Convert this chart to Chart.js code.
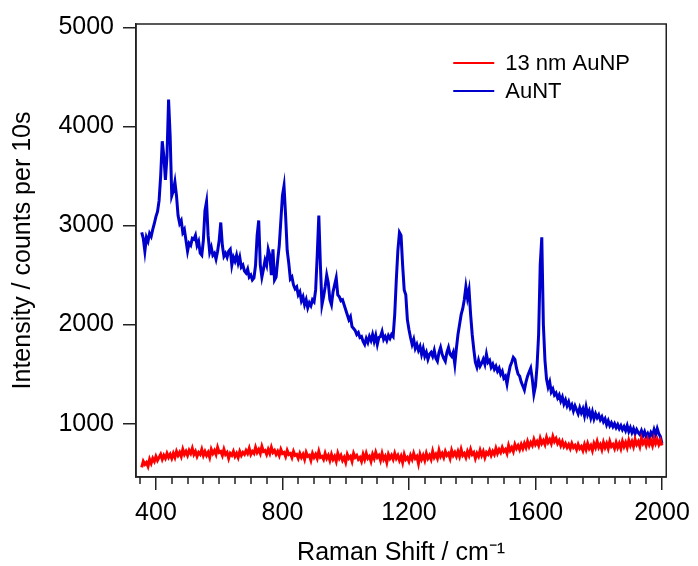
<!DOCTYPE html>
<html>
<head>
<meta charset="utf-8">
<script src="https://cdn.jsdelivr.net/npm/chart.js@4.4.1/dist/chart.umd.min.js"></script>
<style>
  html, body { margin: 0; padding: 0; background: #fff; }
  #spectrum { display: block; }
</style>
</head>
<body>
<canvas id="spectrum" width="698" height="566"></canvas>
<script>
// Raman spectra, one reading every 5 cm-1 from 355 to 2000 cm-1
const shiftStart = 355;
const shiftStep = 5;

// 13 nm AuNP (20 readings per row = 100 cm-1)
const aunpCounts = [
  560, 620, 590, 610, 570, 640, 600, 650, 620, 670, 630, 660, 690, 640, 680, 650, 700, 660, 690, 650,
  700, 660, 720, 680, 710, 670, 740, 690, 720, 680, 730, 700, 750, 690, 720, 670, 710, 690, 740, 680,
  720, 680, 710, 660, 740, 700, 730, 690, 760, 710, 720, 680, 740, 690, 710, 650, 700, 680, 720, 670,
  700, 660, 720, 680, 710, 690, 730, 700, 750, 690, 720, 700, 760, 710, 740, 700, 770, 720, 730, 690,
  740, 700, 760, 710, 730, 690, 720, 680, 740, 700, 710, 670, 730, 690, 700, 660, 720, 680, 690, 650,
  700, 660, 690, 640, 710, 670, 680, 630, 700, 660, 690, 650, 720, 660, 670, 640, 700, 650, 680, 630,
  690, 640, 670, 620, 700, 650, 680, 630, 660, 610, 690, 650, 670, 620, 700, 660, 680, 640, 660, 620,
  690, 640, 700, 650, 670, 620, 690, 650, 710, 660, 680, 630, 700, 640, 670, 610, 690, 650, 680, 640,
  700, 650, 680, 630, 670, 610, 690, 640, 660, 620, 680, 640, 700, 650, 670, 600, 690, 640, 680, 630,
  700, 650, 680, 640, 720, 660, 690, 650, 730, 670, 700, 660, 720, 680, 700, 650, 730, 680, 710, 670,
  720, 670, 740, 680, 700, 660, 720, 680, 740, 690, 710, 650, 700, 670, 730, 680, 720, 660, 710, 690,
  730, 680, 720, 690, 750, 700, 740, 710, 760, 720, 740, 700, 780, 730, 760, 720, 790, 750, 780, 740,
  790, 750, 800, 760, 820, 770, 810, 780, 840, 790, 820, 780, 850, 800, 830, 790, 860, 810, 840, 800,
  870, 820, 850, 800, 830, 780, 820, 770, 800, 760, 790, 750, 800, 760, 780, 740, 790, 750, 770, 730,
  790, 740, 800, 750, 780, 730, 800, 760, 820, 760, 790, 740, 810, 760, 800, 750, 820, 770, 790, 750,
  810, 760, 800, 750, 820, 770, 810, 760, 830, 780, 820, 770, 840, 790, 820, 770, 850, 800, 830, 780,
  840, 790, 830, 780, 850, 800, 840, 790, 830, 780
];

// AuNT
const auntCounts = [
  2930, 2870, 2740, 2880, 2840, 2920, 2890, 2960, 3020, 3090, 3140, 3250, 3500, 3850, 3700, 3460, 3700, 4270, 3900, 3300,
  3350, 3440, 3300, 3100, 3020, 3050, 2930, 2960, 2850, 2740, 2820, 2800, 2870, 2860, 2900, 2800, 2840, 2720, 2700, 2850,
  3150, 3240, 2900, 2730, 2780, 2700, 2720, 2660, 2740, 2850, 3030, 2800, 2690, 2720, 2680, 2740, 2760, 2600, 2680, 2640,
  2700, 2620, 2680, 2580, 2600, 2540, 2520, 2560, 2480, 2500, 2450, 2470, 2600, 2900, 3050, 2600, 2480, 2560, 2650, 2600,
  2760, 2700, 2500, 2760, 2450, 2480, 2650, 2800, 3050, 3300, 3400, 3100, 2750, 2620, 2460, 2480, 2400, 2360, 2380, 2300,
  2330, 2240, 2280, 2200, 2250, 2170, 2220, 2190, 2250, 2230, 2350, 2700, 3100, 2600, 2200, 2280, 2380, 2500, 2420, 2250,
  2200, 2330, 2400, 2470, 2300, 2280, 2240, 2250, 2200, 2150, 2100, 2050, 2080, 1980, 1960, 1940, 1900, 1920, 1870, 1880,
  1830, 1800, 1860, 1820, 1880, 1840, 1900, 1830, 1890, 1800, 1870, 1880, 1930, 1850, 1880, 1840, 1890, 1860, 1900, 1880,
  2100, 2450, 2750, 2930, 2900, 2600, 2350, 2300, 2050, 1950, 1870, 1800, 1850, 1760, 1800, 1740, 1780, 1700, 1760, 1680,
  1720, 1650, 1700, 1720, 1680, 1740, 1660, 1630, 1720, 1770, 1700, 1660, 1630, 1720, 1770, 1700, 1680, 1720, 1600, 1760,
  1900, 2000, 2100, 2160, 2250, 2380, 2270, 2350, 2100, 1900, 1750, 1620, 1570, 1640, 1580, 1610, 1650, 1600, 1700, 1620,
  1640, 1570, 1600, 1550, 1580, 1530, 1560, 1500, 1530, 1460, 1480, 1400, 1500, 1580, 1620, 1670, 1650, 1560, 1500, 1480,
  1420, 1380, 1340, 1420, 1480, 1520, 1560, 1450, 1300, 1380, 1580, 1900, 2600, 2880, 2000, 1640, 1450, 1370, 1420, 1320,
  1350, 1290, 1310, 1260, 1290, 1230, 1270, 1200, 1240, 1180, 1220, 1160, 1190, 1130, 1180, 1140, 1100, 1160, 1110, 1150,
  1080, 1170, 1090, 1130, 1060, 1120, 1050, 1100, 1060, 1090, 1040, 1070, 1020, 1050, 990, 1030, 980, 1010, 970, 1000,
  960, 990, 950, 980, 940, 970, 930, 980, 920, 960, 910, 950, 900, 940, 910, 890, 930, 880, 920, 870,
  900, 860, 910, 880, 940, 890, 950, 900, 870, 800
];

const shiftLabels = [400, 800, 1200, 1600, 2000];
const shiftMinorStep = 50;
const intensityTicks = [1000, 2000, 3000, 4000, 5000];

const toPoints = (counts) => counts.map((y, i) => ({ x: shiftStart + i * shiftStep, y }));

const axisColor = "#222";
const fontFamily = "'Liberation Sans', Arial, sans-serif";

// box round the plot, short minor ticks on x, and the line legend
const framePlugin = {
  id: "frame",
  afterDraw(chart) {
    const { ctx, chartArea, scales } = chart;
    ctx.save();
    ctx.strokeStyle = axisColor;
    ctx.lineWidth = 1.5;
    ctx.strokeRect(chartArea.left, chartArea.top, chartArea.right - chartArea.left, chartArea.bottom - chartArea.top);

    ctx.beginPath();
    scales.x.ticks.forEach((t) => {
      if (shiftLabels.includes(t.value)) return;
      const px = Math.round(scales.x.getPixelForValue(t.value));
      ctx.moveTo(px, chartArea.bottom);
      ctx.lineTo(px, chartArea.bottom + 7);
    });
    ctx.stroke();

    ctx.font = "22px " + fontFamily;
    ctx.textBaseline = "middle";
    ctx.fillStyle = "#000";
    chart.data.datasets.forEach((ds, i) => {
      const y = chartArea.top + 39 + i * 28;
      const x0 = chartArea.right - 213;
      ctx.strokeStyle = ds.borderColor;
      ctx.lineWidth = 2;
      ctx.beginPath();
      ctx.moveTo(x0, y);
      ctx.lineTo(x0 + 41, y);
      ctx.stroke();
      ctx.fillText(ds.label, x0 + 52, y + 1);
    });
    ctx.restore();
  }
};

const ctx = document.getElementById("spectrum").getContext("2d");
const spectrumChart = new Chart(ctx, {
  type: "line",
  data: {
    datasets: [
      {
        label: "13 nm AuNP",
        data: toPoints(aunpCounts),
        borderColor: "#ff0000",
        borderWidth: 3,
        pointRadius: 0,
        tension: 0,
      },
      {
        label: "AuNT",
        data: toPoints(auntCounts),
        borderColor: "#0000cc",
        borderWidth: 3,
        pointRadius: 0,
        tension: 0,
      },
    ],
  },
  options: {
    responsive: false,
    animation: false,
    devicePixelRatio: 1,
    layout: { padding: { top: 21, right: 27, left: 0, bottom: 0 } },
    plugins: {
      legend: { display: false },
      tooltip: { enabled: false },
    },
    scales: {
      x: {
        type: "linear",
        min: 337,
        max: 2013.5,
        afterFit: (scale) => { scale.height = 89; },
        afterBuildTicks: (scale) => {
          const ticks = [];
          for (let v = 350; v <= 2000; v += shiftMinorStep) ticks.push({ value: v });
          scale.ticks = ticks;
        },
        border: { display: true, color: axisColor, width: 1.5 },
        grid: {
          drawOnChartArea: false,
          drawTicks: true,
          tickLength: 13,
          lineWidth: 1.5,
          tickColor: (c) => (c.tick && shiftLabels.includes(c.tick.value) ? axisColor : "transparent"),
        },
        ticks: {
          autoSkip: false,
          maxRotation: 0,
          padding: 8,
          color: "#000",
          font: { family: fontFamily, size: 25 },
          callback: (v) => (shiftLabels.includes(v) ? String(v) : ""),
        },
        title: {
          display: true,
          text: "Raman Shift / cm\u207B\u00B9",
          color: "#000",
          font: { family: fontFamily, size: 25, lineHeight: 1 },
          padding: { top: 0, bottom: 0 },
        },
      },
      y: {
        min: 462,
        max: 5033,
        afterFit: (scale) => { scale.width = 136; },
        afterBuildTicks: (scale) => {
          scale.ticks = intensityTicks.map((v) => ({ value: v }));
        },
        border: { display: true, color: axisColor, width: 1.5 },
        grid: {
          drawOnChartArea: false,
          drawTicks: true,
          tickLength: 13,
          lineWidth: 1.5,
          color: axisColor,
        },
        ticks: {
          padding: 9,
          color: "#000",
          font: { family: fontFamily, size: 25 },
          callback: (v) => String(v),
        },
        title: {
          display: true,
          text: "Intensity / counts per 10s",
          color: "#000",
          font: { family: fontFamily, size: 25, lineHeight: 1.2 },
          padding: { top: 8, bottom: 0 },
        },
      },
    },
  },
  plugins: [framePlugin],
});
</script>
</body>
</html>
